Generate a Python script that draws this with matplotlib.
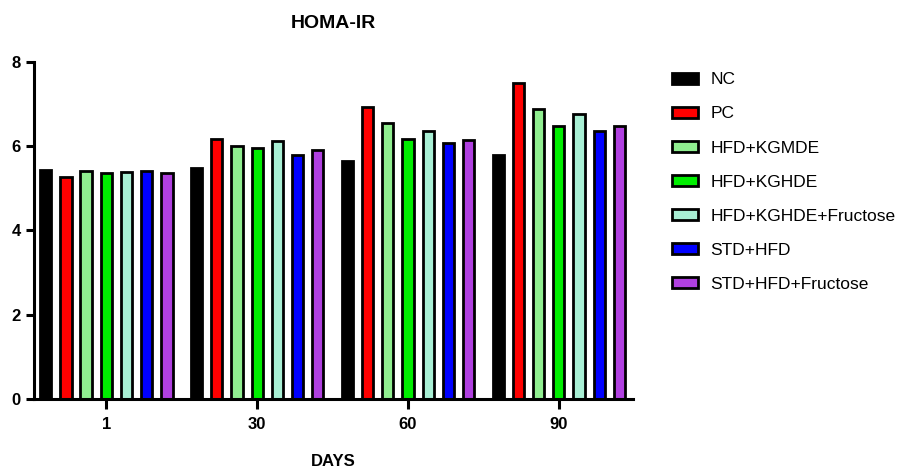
import numpy as np
import matplotlib.pyplot as plt

plt.rcParams['font.family'] = ['Liberation Sans', 'DejaVu Sans']

days = ['1', '30', '60', '90']
groups = ['NC', 'PC', 'HFD+KGMDE', 'HFD+KGHDE', 'HFD+KGHDE+Fructose',
          'STD+HFD', 'STD+HFD+Fructose']
colors = ['#000000', '#ff0000', '#90ee90', '#00ee00', '#a8efd4',
          '#0000ff', '#b040e0']

nc = [5.44, 5.48, 5.64, 5.78]
pc = [5.28, 6.18, 6.93, 7.50]
hfd_kgmde = [5.42, 6.01, 6.55, 6.89]
hfd_kghde = [5.36, 5.95, 6.18, 6.47]
hfd_kghde_fru = [5.38, 6.11, 6.37, 6.77]
std_hfd = [5.40, 5.80, 6.07, 6.37]
std_hfd_fru = [5.36, 5.90, 6.15, 6.48]

values = [nc, pc, hfd_kgmde, hfd_kghde, hfd_kghde_fru, std_hfd, std_hfd_fru]

fig = plt.figure(figsize=(9.17, 4.68), dpi=100)
ax = fig.add_axes([0.037, 0.147, 0.653, 0.721])

x = np.arange(len(days))
pitch = 0.134
width = 0.075
for i, (name, vals, c) in enumerate(zip(groups, values, colors)):
    ax.bar(x + (i - 3) * pitch, vals, width, color=c, edgecolor='black',
           linewidth=2, label=name)

ax.set_xlim(-0.48, 3.49)
ax.set_ylim(0, 8)
ax.set_yticks([0, 2, 4, 6, 8])
ax.set_xticks(x)
ax.set_xticklabels(days)
for s in ['top', 'right']:
    ax.spines[s].set_visible(False)
for s in ['left', 'bottom']:
    ax.spines[s].set_linewidth(2.2)
ax.tick_params(width=2.2, length=6, labelsize=12)
ax.tick_params(axis='x', length=7, pad=6)
for lab in ax.get_xticklabels() + ax.get_yticklabels():
    lab.set_fontweight('bold')

ax.set_title('HOMA-IR', fontsize=14, fontweight='bold', pad=24)
ax.set_xlabel('DAYS', fontsize=12, fontweight='bold', labelpad=16)

ax.legend(loc='upper left', bbox_to_anchor=(1.04, 1.015), frameon=False,
          fontsize=12.5, handlelength=1.5, handleheight=0.6,
          labelspacing=1.1, handletextpad=0.7)

plt.savefig('out.png', dpi=100)
